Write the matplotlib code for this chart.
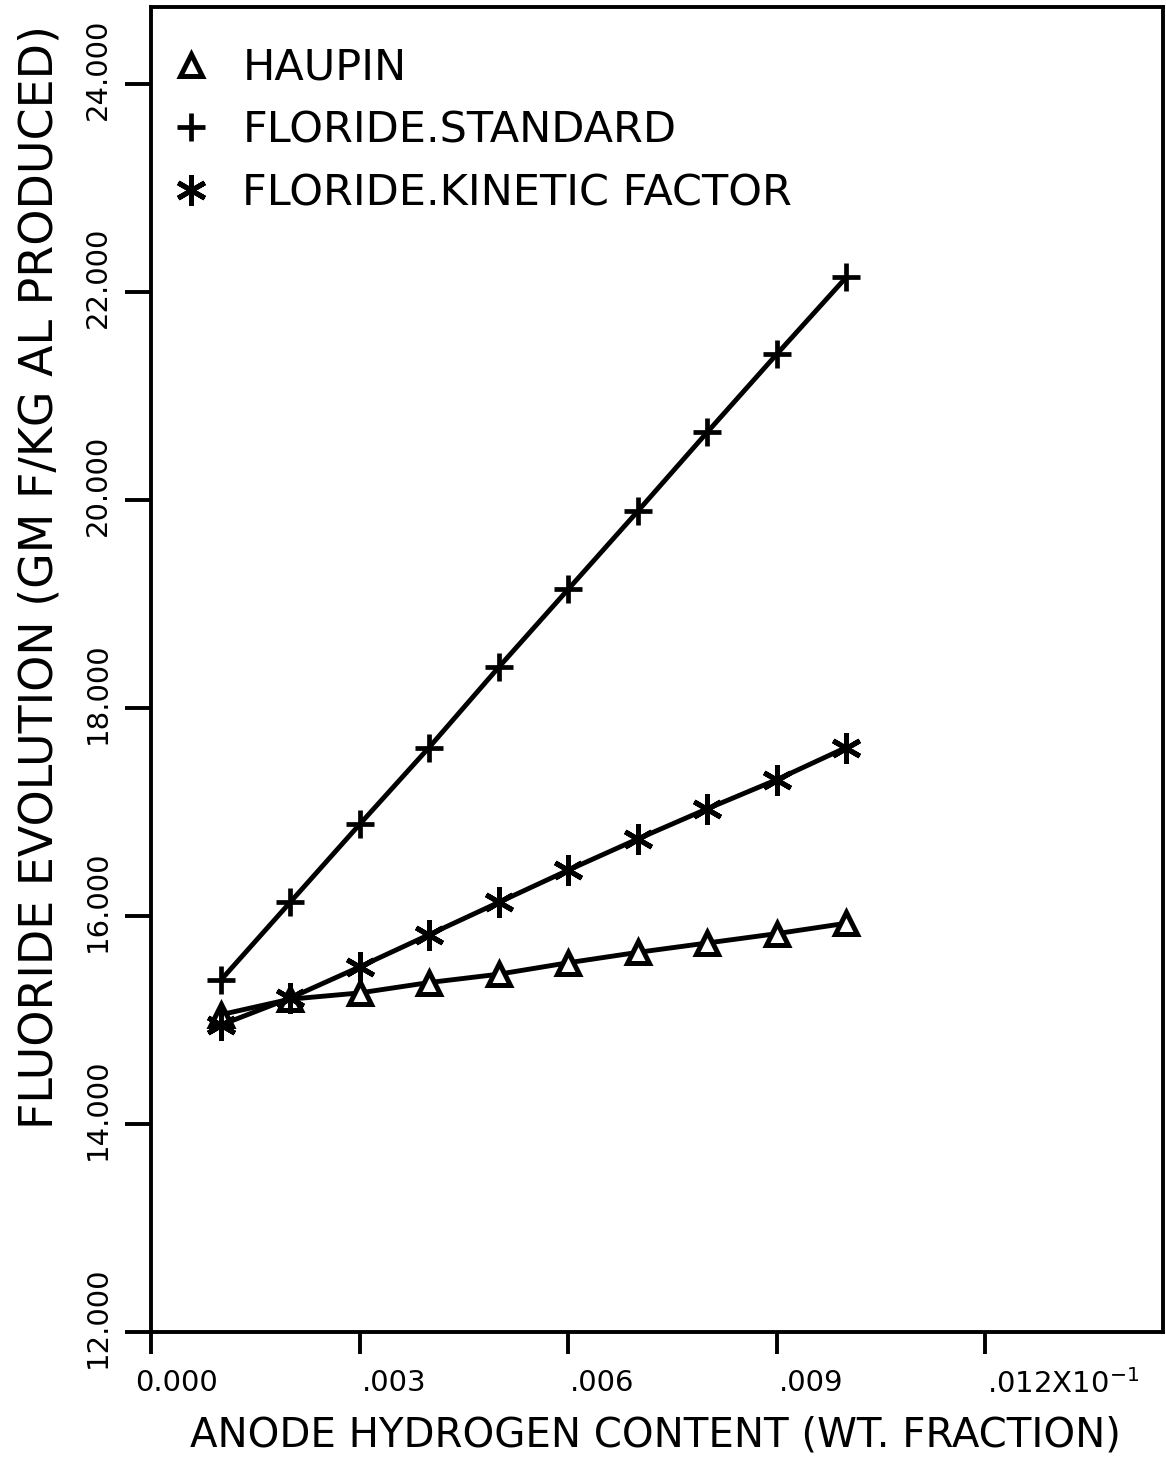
import numpy as np
import matplotlib.pyplot as plt
from matplotlib.lines import Line2D
from matplotlib.transforms import ScaledTranslation

# anode hydrogen content (wt. fraction x 10^-1)
h_content = [0.001, 0.002, 0.003, 0.004, 0.005, 0.006, 0.007, 0.008, 0.009, 0.010]

# fluoride evolution, gm F / kg Al produced
haupin = [15.05, 15.20, 15.26, 15.36, 15.44, 15.55, 15.65, 15.74, 15.83, 15.93]
floride_std = [15.38, 16.13, 16.88, 17.62, 18.39, 19.14, 19.89, 20.65, 21.40, 22.14]
floride_kin = [14.95, 15.21, 15.51, 15.82, 16.13, 16.44, 16.74, 17.03, 17.31, 17.62]

series_names = ['HAUPIN', 'FLORIDE.STANDARD', 'FLORIDE.KINETIC FACTOR']

x_ticks = [0.0, 0.003, 0.006, 0.009, 0.012]
x_ticklabels = ['0.000', '.003', '.006', '.009', '.012X10$^{-1}$']
y_ticks = [12, 14, 16, 18, 20, 22, 24]
y_ticklabels = ['12.000', '14.000', '16.000', '18.000', '20.000', '22.000', '24.000']

plt.rcParams['font.family'] = ['DejaVu Sans']

fig = plt.figure(figsize=(11.66, 14.65), dpi=100)
ax = fig.add_axes([0.1295, 0.0908, 0.868, 0.9044])

lw = 3.5
styles = [
    dict(marker='^', markersize=16, markerfacecolor='white', markeredgewidth=3.6),
    dict(marker='+', markersize=20, markeredgewidth=3.4),
    dict(marker=(6, 2, 0), markersize=22, markeredgewidth=3.6),
]
for ys, st in zip([haupin, floride_std, floride_kin], styles):
    ax.plot(h_content, ys, color='black', linewidth=lw, markeredgecolor='black', **st)

ax.set_xlim(0, 0.01456)
ax.set_ylim(12, 24.74)

for sp in ax.spines.values():
    sp.set_linewidth(2.8)

ax.set_xticks(x_ticks)
ax.set_xticklabels(x_ticklabels, fontsize=21)
ax.set_yticks(y_ticks)
ax.set_yticklabels(y_ticklabels, fontsize=21, rotation=90, va='center')
ax.tick_params(axis='x', direction='out', length=16, width=2.8, pad=11)
ax.tick_params(axis='y', direction='out', length=19, width=2.8, pad=9)

# plotter-style labels: x labels start at the tick, y labels sit a bit high
for i, lbl in enumerate(ax.get_xticklabels()):
    lbl.set_horizontalalignment('left')
    dx = -16 if i == 0 else 2
    lbl.set_transform(lbl.get_transform() + ScaledTranslation(dx / 100, 0, fig.dpi_scale_trans))
for lbl in ax.get_yticklabels():
    lbl.set_transform(lbl.get_transform() + ScaledTranslation(0, 15 / 100, fig.dpi_scale_trans))

ax.set_xlabel('ANODE HYDROGEN CONTENT (WT. FRACTION)', fontsize=29, va='top')
ax.xaxis.set_label_coords(0.498, -0.063)
ax.set_ylabel('FLUORIDE EVOLUTION (GM F/KG AL PRODUCED)', fontsize=33)
ax.yaxis.set_label_coords(-0.087, 0.570)

handles = [Line2D([], [], color='black', linestyle='none', markeredgecolor='black', **st)
           for st in styles]
ax.legend(handles, series_names, loc='upper left', bbox_to_anchor=(0.02, 0.970),
          frameon=False, fontsize=31, handlelength=0.9, handletextpad=0.75,
          labelspacing=0.48, borderpad=0, borderaxespad=0)

fig.savefig('out.png', dpi=100)
